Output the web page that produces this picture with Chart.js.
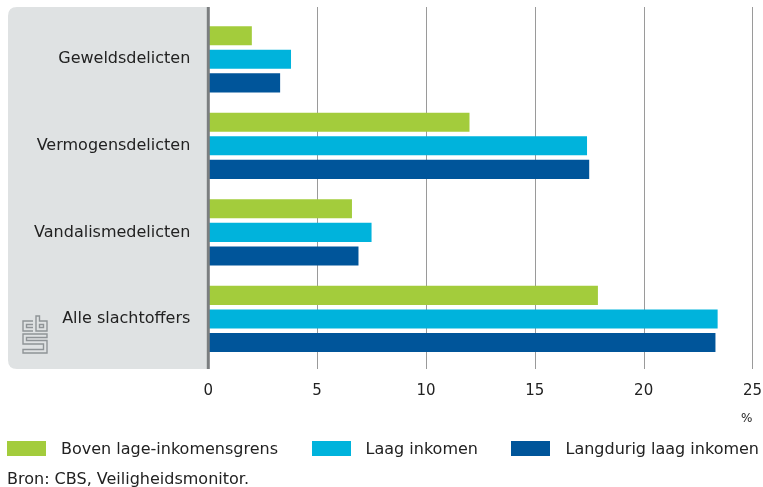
<!DOCTYPE html>
<html>
<head>
<meta charset="utf-8">
<script src="https://cdn.jsdelivr.net/npm/chart.js@4"></script>
<style>
  html, body { margin: 0; padding: 0; background: #fff; }
  #wrap { position: relative; width: 763px; height: 487px; }
  canvas { position: absolute; left: 0; top: 0; }
  #legend { position: absolute; left: 7px; width: 752px; top: 440px; height: 17px;
            display: flex; justify-content: space-between; align-items: center;
            font-family: 'DejaVu Sans', sans-serif; font-size: 16px; color: #222; }
  .item { display: flex; align-items: center; white-space: nowrap; }
  .box { width: 39px; height: 15px; margin-right: 15px; }
  #source { position: absolute; left: 7px; top: 468px; font-family: 'DejaVu Sans', sans-serif;
            font-size: 16px; line-height: 22px; color: #222; white-space: nowrap; }
</style>
</head>
<body>
<div id="wrap">
  <canvas id="c" width="763" height="487"></canvas>
  <div id="legend"></div>
  <div id="source"></div>
</div>
<script>
const categories = ['Geweldsdelicten', 'Vermogensdelicten', 'Vandalismedelicten', 'Alle slachtoffers'];
const seriesNames = ['Boven lage-inkomensgrens', 'Laag inkomen', 'Langdurig laag inkomen'];
const bovenLage = [2.0, 12.0, 6.6, 17.9];
const laagInkomen = [3.8, 17.4, 7.5, 23.4];
const langdurigLaag = [3.3, 17.5, 6.9, 23.3];
const xTickValues = [0, 5, 10, 15, 20, 25];
const unitLabel = '%';
const sourceText = 'Bron: CBS, Veiligheidsmonitor.';

const colors = ['#a3cc3c', '#00b3dc', '#00559a'];
const seriesValues = [bovenLage, laagInkomen, langdurigLaag];
const FONT = "'DejaVu Sans', sans-serif";

const backdrop = {
  id: 'backdrop',
  beforeDraw(chart) {
    const ctx = chart.ctx;
    const x = chart.scales.x;
    const top = 7, bottom = 369;
    const x0 = x.getPixelForValue(0);
    // grey panel
    ctx.save();
    ctx.fillStyle = '#dfe2e3';
    const left = 8, r = 9;
    ctx.beginPath();
    ctx.moveTo(x0, top);
    ctx.lineTo(left + r, top);
    ctx.quadraticCurveTo(left, top, left, top + r);
    ctx.lineTo(left, bottom - r);
    ctx.quadraticCurveTo(left, bottom, left + r, bottom);
    ctx.lineTo(x0, bottom);
    ctx.closePath();
    ctx.fill();
    // grid lines
    ctx.strokeStyle = '#9a9a9a';
    ctx.lineWidth = 1;
    x.ticks.forEach((t, i) => {
      if (t.value === 0) return;
      const px = Math.round(x.getPixelForTick(i)) + 0.5;
      ctx.beginPath();
      ctx.moveTo(px, top);
      ctx.lineTo(px, bottom);
      ctx.stroke();
    });
    // cbs logo
    ctx.strokeStyle = '#8f9497';
    ctx.lineWidth = 1.4;
    ctx.beginPath();
    ctx.moveTo(33, 321); ctx.lineTo(23, 321); ctx.lineTo(23, 331); ctx.lineTo(33, 331);
    ctx.moveTo(33, 324.5); ctx.lineTo(26.5, 324.5); ctx.lineTo(26.5, 327.5); ctx.lineTo(33, 327.5);
    ctx.moveTo(36, 316); ctx.lineTo(36, 331); ctx.lineTo(47, 331); ctx.lineTo(47, 321); ctx.lineTo(39.5, 321);
    ctx.lineTo(39.5, 316); ctx.closePath();
    ctx.rect(39.5, 324.5, 4, 3);
    ctx.moveTo(47, 334); ctx.lineTo(23, 334); ctx.lineTo(23, 344); ctx.lineTo(43.5, 344);
    ctx.lineTo(43.5, 349.5); ctx.lineTo(23, 349.5); ctx.lineTo(23, 353); ctx.lineTo(47, 353);
    ctx.lineTo(47, 340.5); ctx.lineTo(26.5, 340.5); ctx.lineTo(26.5, 337.5); ctx.lineTo(47, 337.5);
    ctx.closePath();
    ctx.stroke();
    ctx.restore();
  },
  afterDatasetsDraw(chart) {
    const ctx = chart.ctx;
    const x0 = chart.scales.x.getPixelForValue(0);
    ctx.save();
    ctx.strokeStyle = '#7b7e80';
    ctx.lineWidth = 3;
    ctx.beginPath();
    ctx.moveTo(x0, 7);
    ctx.lineTo(x0, 369);
    ctx.stroke();
    ctx.restore();
  }
};

const chart = new Chart(document.getElementById('c'), {
  type: 'bar',
  data: {
    labels: categories,
    datasets: seriesNames.map((name, i) => ({
      label: name,
      data: seriesValues[i],
      backgroundColor: colors[i],
      borderWidth: 0,
      categoryPercentage: 0.817,
      barPercentage: 0.81
    }))
  },
  options: {
    responsive: false,
    animation: false,
    indexAxis: 'y',
    layout: { padding: { left: 7, right: 10.3, top: 16, bottom: 61.4 } },
    plugins: {
      legend: { display: false },
      tooltip: { enabled: false }
    },
    scales: {
      x: {
        min: 0,
        max: 25,
        afterBuildTicks(scale) { scale.ticks = xTickValues.map(v => ({ value: v })); },
        grid: { display: false, drawTicks: true, tickLength: 19 },
        border: { display: false },
        ticks: { padding: 1, color: '#222', font: { family: FONT, size: 15 } },
        title: { display: true, text: unitLabel, align: 'end', color: '#222',
                 font: { family: FONT, size: 12 }, padding: { top: 10, bottom: 0 } }
      },
      y: {
        grid: { display: false, drawTicks: true, tickLength: 17 },
        border: { display: false },
        ticks: { padding: 1, color: '#222', font: { family: FONT, size: 16 } },
        afterFit(scale) { scale.width = 201.3; }
      }
    }
  },
  plugins: [backdrop]
});

// legend & source (text)
const legendEl = document.getElementById('legend');
seriesNames.forEach((name, i) => {
  const item = document.createElement('div');
  item.className = 'item';
  const box = document.createElement('span');
  box.className = 'box';
  box.style.background = colors[i];
  const txt = document.createElement('span');
  txt.textContent = name;
  item.appendChild(box);
  item.appendChild(txt);
  legendEl.appendChild(item);
});
document.getElementById('source').textContent = sourceText;
</script>
</body>
</html>
